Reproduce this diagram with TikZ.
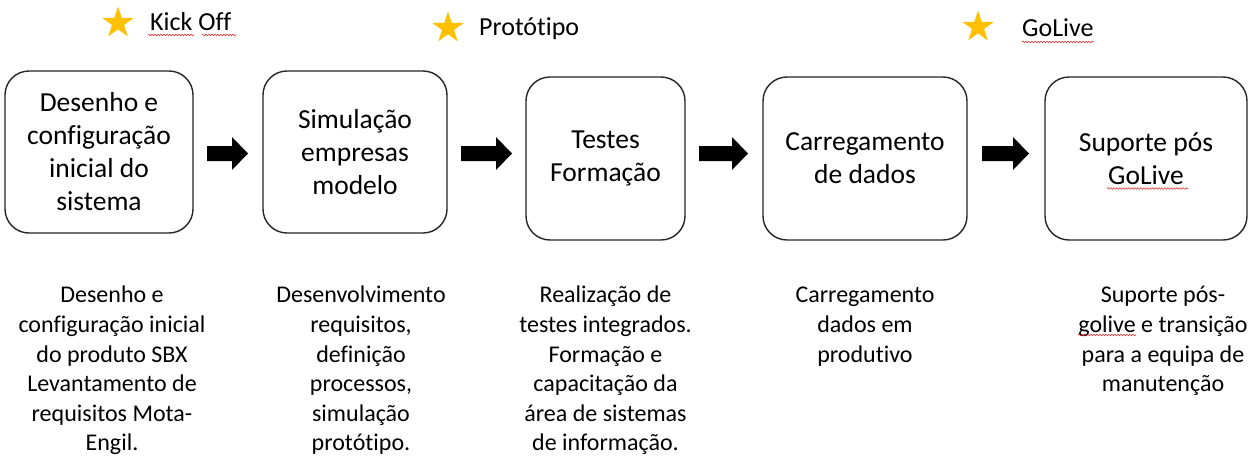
\documentclass[tikz,border=0pt]{standalone}
\usepackage{fontspec}
\setmainfont{Carlito}[Ligatures=NoCommon]
\usetikzlibrary{shapes.geometric,calc,decorations.pathmorphing}
\definecolor{stargold}{HTML}{FFC000}
\definecolor{spellred}{HTML}{E03030}
\begin{document}
\begin{tikzpicture}[x=1pt,y=-1pt,
 stage/.style={draw=black!85, line width=1.4pt, rounded corners=24pt, align=center, inner sep=0pt, font=\fontsize{27.5}{33}\selectfont},
 desc/.style={align=center, anchor=north, inner sep=0pt, font=\fontsize{24}{29.6}\selectfont},
 milestone/.style={star, star points=5, star point ratio=2.6, fill=stargold, draw=none, minimum size=33pt, inner sep=0pt},
 mlabel/.style={anchor=base west, inner sep=0pt, font=\fontsize{26}{31}\selectfont},
 spell/.style={draw=spellred, line width=0.6pt, decorate, decoration={snake, amplitude=0.8pt, segment length=3pt}},
 blockarrow/.style={fill=black}
]
\useasboundingbox[fill=white] (0,0) rectangle (1254,469);

% milestones
\node[milestone] (s1) at (118,23) {};
\node[mlabel] (kick) at (150,30) {Kick Off};
\node[milestone] (s2) at (448,28) {};
\node[mlabel] (proto) at (479,35) {Protótipo};
\node[milestone] (s3) at (978,27) {};
\node[mlabel] (golive) at (1022,36) {GoLive};

% stages
\node[stage, minimum width=188pt, minimum height=162pt] (b1) at (99,152) {Desenho e\\configuração\\inicial do\\sistema};
\node[stage, minimum width=184pt, minimum height=162pt] (b2) at (355,152) {Simulação\\empresas\\modelo};
\node[stage, minimum width=159pt, minimum height=163pt] (b3) at (605.5,158.5) {Testes\\Formação};
\node[stage, minimum width=204pt, minimum height=163pt] (b4) at (865,158.5) {Carregamento\\de dados};
\node[stage, minimum width=202pt, minimum height=163pt] (b5) at (1146,158.5) {Suporte pós\\GoLive};

% block arrows
\foreach \i/\x/\l in {1/207/41, 2/461/51, 3/699/49, 4/982/47} {
  \coordinate (a\i s) at (\x,153.5);
  \coordinate (a\i e) at (\x+\l,153.5);
  \fill[blockarrow] (a\i s) ++(0,-7.5) -- ++(\l-16,0) -- ++(0,-9) -- (a\i e) -- ++(-16,16.5) -- ++(0,-9) -- ++(-\l+16,0) -- cycle;
}

% descriptions
\node[desc] (d1) at (112,282) {\strut Desenho e\\configuração inicial\\do produto SBX\\Levantamento de\\requisitos Mota-\\Engil.};
\node[desc] (d2) at (361,282) {\strut Desenvolvimento\\requisitos,\\definição\\processos,\\simulação\\protótipo.};
\node[desc] (d3) at (605.5,282) {\strut Realização de\\testes integrados.\\Formação e\\capacitação da\\área de sistemas\\de informação.};
\node[desc] (d4) at (865,282) {\strut Carregamento\\dados em\\produtivo};
\node[desc] (d5) at (1163,282) {\strut Suporte pós-\\golive e transição\\para a equipa de\\manutenção};

% spell-check underlines
\draw[spell] ($(kick.base west)+(-2,5)$) -- ++(46,0);
\draw[spell] ($(kick.base west)+(52,5)$) -- ++(34,0);
\draw[spell] ($(golive.base west)+(0,6)$) -- ($(golive.base east)+(0,6)$);
\draw[spell] ($(b5.center)+(-39,30)$) -- ++(81,0);
\draw[spell] ($(d5.north)+(-85,53)$) -- ++(58,0);
\end{tikzpicture}
\end{document}
